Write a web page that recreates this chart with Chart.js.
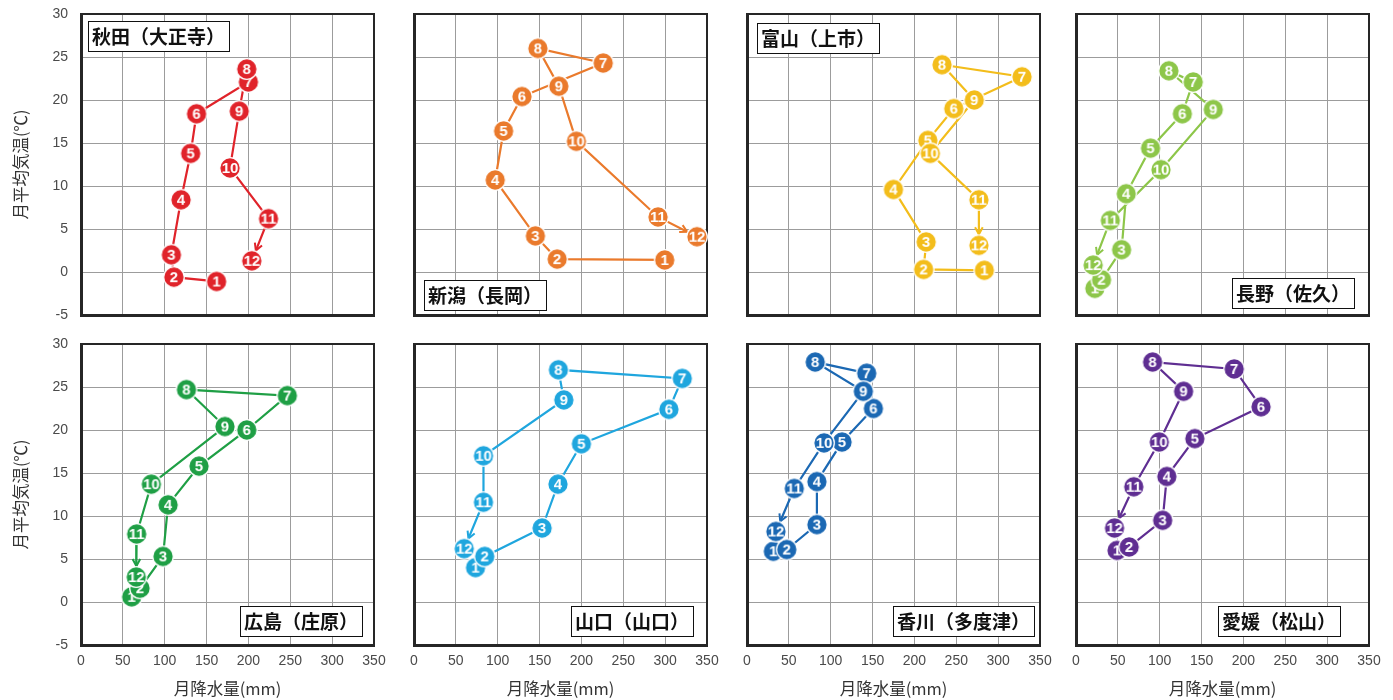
<!DOCTYPE html>
<html>
<head>
<meta charset="utf-8">
<script src="https://cdn.jsdelivr.net/npm/chart.js@4.4.1/dist/chart.umd.min.js"></script>
<style>
  html, body { margin: 0; padding: 0; background: #ffffff; }
  #wrap { position: relative; width: 1393px; height: 700px; overflow: hidden; }
  #wrap canvas { position: absolute; }
</style>
</head>
<body>
<div id="wrap"></div>
<script>
// ---- data -------------------------------------------------------------
const months = [1, 2, 3, 4, 5, 6, 7, 8, 9, 10, 11, 12];
const xTickValues = [0, 50, 100, 150, 200, 250, 300, 350];
const yTickValues = [-5, 0, 5, 10, 15, 20, 25, 30];
const xAxisTitle = '月降水量(mm)';
const yAxisTitle = '月平均気温(℃)';

// monthly precipitation (mm) and mean temperature (°C)
const akitaName = '秋田（大正寺）';
const akitaRain = [162, 111, 108, 119.5, 131, 138, 200, 198, 189, 178, 224, 204];
const akitaTemp = [-1.1, -0.6, 2.0, 8.4, 13.8, 18.4, 22.1, 23.6, 18.7, 12.1, 6.2, 1.3];

const niigataName = '新潟（長岡）';
const niigataRain = [299.5, 171, 145, 97, 107, 129, 226, 148, 173, 194, 291.5, 338];
const niigataTemp = [1.4, 1.5, 4.2, 10.7, 16.4, 20.4, 24.3, 26.0, 21.6, 15.2, 6.4, 4.1];

const toyamaName = '富山（上市）';
const toyamaRain = [283.5, 211, 214, 175, 216, 247, 328.5, 233, 271.5, 219, 277, 277];
const toyamaTemp = [0.2, 0.3, 3.5, 9.6, 15.3, 19.0, 22.7, 24.1, 20.0, 13.8, 8.4, 3.1];

const naganoName = '長野（佐久）';
const naganoRain = [22.5, 30.5, 54.5, 60, 89, 127, 140, 111, 164, 101.5, 41, 20.5];
const naganoTemp = [-1.9, -0.9, 2.6, 9.1, 14.4, 18.4, 22.1, 23.4, 18.9, 11.9, 6.0, 0.8];

const hiroshimaName = '広島（庄原）';
const hiroshimaRain = [60.5, 70.5, 98, 104, 141, 198, 246.5, 126, 172, 84, 66.5, 66];
const hiroshimaTemp = [0.6, 1.6, 5.3, 11.3, 15.8, 20.0, 24.0, 24.7, 20.4, 13.7, 7.9, 2.9];

const yamaguchiName = '山口（山口）';
const yamaguchiRain = [73.5, 84.5, 153, 172, 200, 304.5, 320.5, 172.5, 179, 83, 83, 60];
const yamaguchiTemp = [4.0, 5.3, 8.6, 13.7, 18.4, 22.4, 26.0, 27.0, 23.5, 17.0, 11.6, 6.2];

const kagawaName = '香川（多度津）';
const kagawaRain = [31.5, 47.5, 83.5, 83.5, 113.5, 151, 143, 81.5, 139, 92, 56.5, 34.5];
const kagawaTemp = [5.9, 6.1, 9.0, 14.0, 18.6, 22.5, 26.6, 27.9, 24.5, 18.5, 13.2, 8.2];

const ehimeName = '愛媛（松山）';
const ehimeRain = [49, 63.5, 103.5, 108.5, 142, 221, 189, 91.5, 128.5, 99.5, 69, 46];
const ehimeTemp = [6.0, 6.4, 9.5, 14.6, 19.0, 22.7, 27.1, 27.9, 24.5, 18.6, 13.4, 8.6];

// ---- panel layout and styling ----------------------------------------
const W = 1393, H = 700;
const M = 40;                 // spare margin round each canvas for label overflow
const CW = W + 2 * M, CH = H + 2 * M;
const colLeft = [81, 414, 747, 1076];
const plotW = 293;
const rowTop = [14, 344];
const plotH = 301;

const panels = [
  { name: akitaName,     rain: akitaRain,     temp: akitaTemp,     color: '#e0232a', row: 0, col: 0, corner: 'tl', dx: 7,  dy: 7 },
  { name: niigataName,   rain: niigataRain,   temp: niigataTemp,   color: '#ea7a2c', row: 0, col: 1, corner: 'bl', dx: 10, dy: 5 },
  { name: toyamaName,    rain: toyamaRain,    temp: toyamaTemp,    color: '#f3bd1b', row: 0, col: 2, corner: 'tl', dx: 10, dy: 9 },
  { name: naganoName,    rain: naganoRain,    temp: naganoTemp,    color: '#8dc649', row: 0, col: 3, corner: 'br', dx: 15, dy: 7 },
  { name: hiroshimaName, rain: hiroshimaRain, temp: hiroshimaTemp, color: '#1f9f45', row: 1, col: 0, corner: 'br', dx: 12, dy: 9 },
  { name: yamaguchiName, rain: yamaguchiRain, temp: yamaguchiTemp, color: '#1fa6de', row: 1, col: 1, corner: 'br', dx: 14, dy: 9 },
  { name: kagawaName,    rain: kagawaRain,    temp: kagawaTemp,    color: '#1b68b3', row: 1, col: 2, corner: 'br', dx: 6,  dy: 9 },
  { name: ehimeName,     rain: ehimeRain,     temp: ehimeTemp,     color: '#5f2e92', row: 1, col: 3, corner: 'br', dx: 29, dy: 9 }
];

const tickFont = { family: '"Liberation Sans", Arial, sans-serif', size: 14 };
const titleFont = { family: '"Noto Sans CJK JP", sans-serif', size: 16.5 };

// numbered round marker used as the point style
function markerSprite(n, color) {
  const c = document.createElement('canvas');
  c.width = 24; c.height = 24;
  const g = c.getContext('2d');
  g.beginPath();
  g.arc(12, 12, 10.3, 0, Math.PI * 2);
  g.fillStyle = color;
  g.fill();
  g.lineWidth = 1.3;
  g.strokeStyle = '#ffffff';
  g.stroke();
  g.fillStyle = '#ffffff';
  g.textAlign = 'center';
  g.textBaseline = 'middle';
  const txt = String(n);
  g.font = 'bold 15px "Liberation Sans", Arial, sans-serif';
  const tw = g.measureText(txt).width;
  const maxW = 17;
  g.save();
  g.translate(12, 12.9);
  if (tw > maxW) g.scale(maxW / tw, 1);
  g.fillText(txt, 0, 0);
  g.restore();
  return c;
}

// top and right edges of the plot frame
const framePlugin = {
  id: 'plotFrame',
  beforeDatasetsDraw(chart) {
    const a = chart.chartArea, ctx = chart.ctx;
    ctx.save();
    ctx.strokeStyle = '#262626';
    ctx.lineWidth = 2;
    ctx.beginPath();
    ctx.moveTo(a.left, a.top);
    ctx.lineTo(a.right, a.top);
    ctx.lineTo(a.right, a.bottom);
    ctx.stroke();
    ctx.restore();
  }
};

// arrow head on the last segment (November -> December)
const arrowPlugin = {
  id: 'lastArrow',
  beforeDatasetsDraw(chart) {
    const meta = chart.getDatasetMeta(0);
    const n = meta.data.length;
    if (n < 2) return;
    const p0 = meta.data[n - 2], p1 = meta.data[n - 1];
    const dx = p1.x - p0.x, dy = p1.y - p0.y;
    const len = Math.hypot(dx, dy) || 1;
    const ux = dx / len, uy = dy / len;
    const tx = p1.x - ux * 11, ty = p1.y - uy * 11;
    const ang = Math.atan2(uy, ux);
    const L = 8, spread = 0.5;
    const ctx = chart.ctx;
    ctx.save();
    ctx.strokeStyle = chart.data.datasets[0].borderColor;
    ctx.lineWidth = 2;
    ctx.beginPath();
    ctx.moveTo(tx - L * Math.cos(ang - spread), ty - L * Math.sin(ang - spread));
    ctx.lineTo(tx, ty);
    ctx.lineTo(tx - L * Math.cos(ang + spread), ty - L * Math.sin(ang + spread));
    ctx.stroke();
    ctx.restore();
  }
};

// station name box
const nameBoxPlugin = {
  id: 'stationBox',
  afterDraw(chart, args, opts) {
    const a = chart.chartArea, ctx = chart.ctx;
    ctx.save();
    ctx.font = 'bold 19px "Noto Sans CJK JP", sans-serif';
    const tw = ctx.measureText(opts.text).width;
    const bw = tw + 8, bh = 30;
    let x, y;
    if (opts.corner === 'tl') { x = a.left + opts.dx; y = a.top + opts.dy; }
    else if (opts.corner === 'bl') { x = a.left + opts.dx; y = a.bottom - opts.dy - bh; }
    else { x = a.right - opts.dx - bw; y = a.bottom - opts.dy - bh; }
    ctx.fillStyle = '#ffffff';
    ctx.fillRect(x, y, bw, bh);
    ctx.strokeStyle = '#111111';
    ctx.lineWidth = 1;
    ctx.strokeRect(Math.round(x) + 0.5, Math.round(y) + 0.5, Math.round(bw), bh);
    ctx.fillStyle = '#111111';
    ctx.textBaseline = 'middle';
    ctx.textAlign = 'left';
    ctx.fillText(opts.text, x + 4, y + bh / 2 + 1);
    ctx.restore();
  }
};

const wrap = document.getElementById('wrap');

panels.forEach(p => {
  const cv = document.createElement('canvas');
  cv.width = CW; cv.height = CH;
  cv.style.width = CW + 'px'; cv.style.height = CH + 'px';
  cv.style.left = (-M) + 'px'; cv.style.top = (-M) + 'px';
  wrap.appendChild(cv);

  // plot rectangle in canvas coordinates
  const left = colLeft[p.col] + M, top = rowTop[p.row] + M;
  const right = left + plotW, bottom = top + plotH;
  const showY = p.col === 0;
  const showX = p.row === 1;
  const yw = showY ? 79 : 0;
  const xh = showX ? 54 : 0;

  const chart = new Chart(cv, {
    type: 'line',
    data: {
      datasets: [{
        data: months.map((m, i) => ({ x: p.rain[i], y: p.temp[i] })),
        borderColor: p.color,
        borderWidth: 2.2,
        pointStyle: months.map(m => markerSprite(m, p.color)),
        pointRadius: 10,
        pointHoverRadius: 10,
        tension: 0,
        fill: false,
        clip: false
      }]
    },
    options: {
      responsive: false,
      animation: false,
      events: [],
      devicePixelRatio: 1,
      layout: { padding: { left: left - yw, top: top, right: CW - right, bottom: CH - bottom - xh } },
      plugins: {
        legend: { display: false },
        tooltip: { enabled: false },
        stationBox: { text: p.name, corner: p.corner, dx: p.dx, dy: p.dy }
      },
      scales: {
        x: {
          type: 'linear', position: 'bottom', min: 0, max: 350,
          afterBuildTicks: s => { s.ticks = xTickValues.map(v => ({ value: v })); },
          afterFit: s => { s.height = xh; },
          grid: { color: '#9c9c9c', lineWidth: 1, drawTicks: false },
          border: { color: '#262626', width: 3 },
          ticks: { display: showX, padding: 8, color: '#4a4a4a', font: tickFont, maxRotation: 0, autoSkip: false },
          title: { display: showX, text: xAxisTitle, color: '#333333', font: titleFont, padding: { top: 0, bottom: 0 } }
        },
        y: {
          type: 'linear', position: 'left', min: -5, max: 30,
          afterBuildTicks: s => { s.ticks = yTickValues.map(v => ({ value: v })); },
          afterFit: s => { s.width = yw; },
          grid: { color: '#9c9c9c', lineWidth: 1, drawTicks: false },
          border: { color: '#262626', width: 3 },
          ticks: { display: showY, padding: 13, color: '#4a4a4a', font: tickFont, autoSkip: false },
          title: { display: showY, text: yAxisTitle, color: '#333333', font: titleFont, padding: { top: 9, bottom: 0 } }
        }
      }
    },
    plugins: [framePlugin, arrowPlugin, nameBoxPlugin]
  });

  // settle the plot rectangle onto the panel box (tick-label overflow can nudge it)
  for (let k = 0; k < 3; k++) {
    const a = chart.chartArea;
    const pad = chart.config.options.layout.padding;
    const dT = a.top - top, dB = bottom - a.bottom, dL = a.left - left, dR = right - a.right;
    if (Math.abs(dT) < 0.5 && Math.abs(dB) < 0.5 && Math.abs(dL) < 0.5 && Math.abs(dR) < 0.5) break;
    pad.top -= dT; pad.bottom -= dB; pad.left -= dL; pad.right -= dR;
    chart.update();
  }
});
</script>
</body>
</html>
